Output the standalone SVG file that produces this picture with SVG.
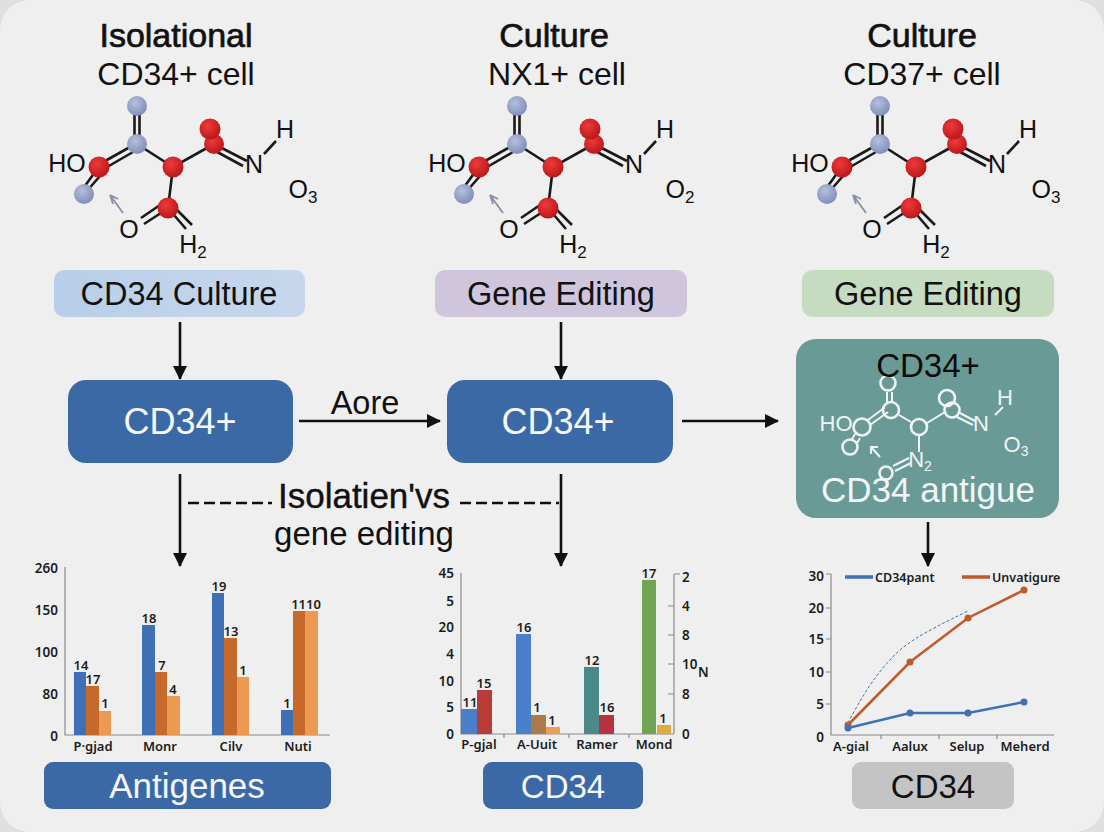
<svg xmlns="http://www.w3.org/2000/svg" width="1104" height="832" viewBox="0 0 1104 832">
<style>
text{font-family:"Liberation Sans",Arial,sans-serif;fill:#111}
.t1{font-size:34px;text-anchor:middle;stroke:#111;stroke-width:.7px}
.t2{font-size:32px;text-anchor:middle}
.atxt{font-size:25px;text-anchor:middle}
.sub{font-size:17px}
.bond{stroke:#1a1a1a;stroke-width:2.6;fill:none}
.wbond{stroke:#eef5f4;stroke-width:2;fill:none}
.wc{fill:none;stroke:#eef5f4;stroke-width:2.6}
.wt{font-size:22px;text-anchor:middle;fill:#eef5f4}
.lbl{font-size:32.500px;text-anchor:middle}
.white{fill:#f6f8fb}
.conn{stroke:#111;stroke-width:2.6;fill:none}
.ax{stroke:#8a8a8a;stroke-width:1.2;fill:none}
.n{font-family:"Noto Sans","Liberation Sans",sans-serif;font-size:13px;text-anchor:middle;fill:#1c1c1c;font-weight:600}
.tick{font-family:"Noto Sans","Liberation Sans",sans-serif;font-size:13.5px;text-anchor:end;fill:#1c1c1c;font-weight:600}
.cat{font-family:"Noto Sans","Liberation Sans",sans-serif;font-size:13px;text-anchor:middle;fill:#1c1c1c;font-weight:600}
</style>
<defs>
<radialGradient id="blue" cx=".4" cy=".35" r=".7"><stop offset="0" stop-color="#b5c0dd"/><stop offset="1" stop-color="#7d8cb8"/></radialGradient>
<radialGradient id="red" cx=".4" cy=".35" r=".7"><stop offset="0" stop-color="#ee3a3a"/><stop offset="1" stop-color="#b81518"/></radialGradient>
<linearGradient id="g1" x1="0" x2="1"><stop offset="0" stop-color="#b8cfe9"/><stop offset="1" stop-color="#c6d7ec"/></linearGradient>
<marker id="ah" viewBox="0 0 14 14" markerWidth="14" markerHeight="14" refX="13" refY="7" orient="auto" markerUnits="userSpaceOnUse"><path d="M0 0L14 7L0 14Z" fill="#111"/></marker>
<g id="mol">
<path class="bond" d="M134.500 114V136M139.500 114V136M130 147L98 165M133 152L102 170M137 144L173 167L214 144M212 143L247 161M208 147L243 166M173 167L168 208M95 172L82 190M100 176L86 192M160 205L141 218M164 211L144 224M168 208L186 229M172 205L192 225"/>
<path d="M123 213L110 195L113 204M110 195L118 199" fill="none" stroke="#8a90a5" stroke-width="1.800"/>
<circle cx="137" cy="106" r="10" fill="url(#blue)"/><circle cx="137" cy="144" r="10" fill="url(#blue)"/><circle cx="84" cy="194" r="10" fill="url(#blue)"/>
<circle cx="99" cy="167" r="10.500" fill="url(#red)"/><circle cx="173" cy="167" r="10.500" fill="url(#red)"/><circle cx="168" cy="208" r="10.500" fill="url(#red)"/><circle cx="214" cy="144" r="10" fill="url(#red)"/><circle cx="210" cy="129" r="10.500" fill="url(#red)"/>
<path class="bond" d="M264 154L276 141"/>
</g>
</defs>
<rect width="1104" height="832" fill="#dfdfdf"/>
<rect width="1104" height="832" rx="30" fill="#efefef"/>

<g id="connectors">
<path class="conn" d="M180 322V379" marker-end="url(#ah)"/>
<path class="conn" d="M561 322V379" marker-end="url(#ah)"/>
<path class="conn" d="M299 421H440" marker-end="url(#ah)"/>
<path class="conn" d="M682 421H778" marker-end="url(#ah)"/>
<path class="conn" d="M180 474V566" marker-end="url(#ah)"/>
<path class="conn" d="M561 474V566" marker-end="url(#ah)"/>
<path class="conn" d="M928 522V566" marker-end="url(#ah)"/>
<path class="conn" d="M188 503H272M460 503H559" stroke-dasharray="11 5" stroke-width="2"/>
</g>

<g id="col1-title"><text class="t1" x="176" y="47">Isolational</text><text class="t2" x="176" y="85">CD34+ cell</text></g>
<g id="col2-title"><text class="t1" x="554" y="47">Culture</text><text class="t2" x="557" y="85">NX1+ cell</text></g>
<g id="col3-title"><text class="t1" x="922" y="47">Culture</text><text class="t2" x="922" y="85">CD37+ cell</text></g>

<g id="mol1"><use href="#mol"/>
<text class="atxt" x="67" y="172">HO</text><text class="atxt" x="254" y="173">N</text><text class="atxt" x="285" y="138">H</text><text class="atxt" x="129" y="238">O</text>
<text class="atxt" x="303" y="198">O<tspan class="sub" dy="5">3</tspan></text><text class="atxt" x="193" y="253">H<tspan class="sub" dy="5">2</tspan></text></g>
<g id="mol2"><use href="#mol" x="380"/>
<text class="atxt" x="447" y="172">HO</text><text class="atxt" x="634" y="173">N</text><text class="atxt" x="665" y="138">H</text><text class="atxt" x="509" y="238">O</text>
<text class="atxt" x="680" y="198">O<tspan class="sub" dy="5">2</tspan></text><text class="atxt" x="573" y="253">H<tspan class="sub" dy="5">2</tspan></text></g>
<g id="mol3"><use href="#mol" x="743"/>
<text class="atxt" x="810" y="172">HO</text><text class="atxt" x="997" y="173">N</text><text class="atxt" x="1028" y="138">H</text><text class="atxt" x="872" y="238">O</text>
<text class="atxt" x="1046" y="198">O<tspan class="sub" dy="5">3</tspan></text><text class="atxt" x="936" y="253">H<tspan class="sub" dy="5">2</tspan></text></g>

<g id="n-culture"><rect x="54" y="270" width="251" height="47" rx="10" fill="url(#g1)"/><text class="lbl" x="179" y="305">CD34 Culture</text></g>
<g id="n-edit1"><rect x="435" y="270" width="252" height="47" rx="10" fill="#cfc6de"/><text class="lbl" x="561" y="305">Gene Editing</text></g>
<g id="n-edit2"><rect x="802" y="270" width="252" height="47" rx="10" fill="#c6dcc0"/><text class="lbl" x="928" y="305">Gene Editing</text></g>
<g id="n-cd34a"><rect x="68" y="380" width="225" height="83" rx="18" fill="#3b69a5"/><text class="lbl white" x="180" y="434" style="font-size:36px">CD34+</text></g>
<g id="n-cd34b"><rect x="447" y="380" width="226" height="83" rx="18" fill="#3b69a5"/><text class="lbl white" x="558" y="434" style="font-size:36px">CD34+</text></g>
<text id="lbl-aore" class="lbl" x="365" y="414">Aore</text>

<g id="n-antigen"><rect x="796" y="339" width="263" height="179" rx="20" fill="#6a9a96"/>
<path class="wbond" d="M887 392V402M892 392V402M884 408L868 420M888 412L870 425M899 415L911 422M927 423L945 412M960 413L975 421M957 417L973 425M855 434L852 439M860 438L857 443M919 436V452M893 466L909 458M895 471L911 463M995 415L1003 407"/>
<path class="wbond" d="M880 457L871 447M871 454V447H878"/>
<circle class="wc" cx="888" cy="383" r="7.500"/><circle class="wc" cx="891" cy="410" r="8"/><circle class="wc" cx="862" cy="427" r="8.500"/><circle class="wc" cx="850" cy="447" r="7.500"/><circle class="wc" cx="919" cy="427" r="8"/><circle class="wc" cx="952" cy="410" r="7.500"/><circle class="wc" cx="947" cy="398" r="8"/><circle class="wc" cx="886" cy="473" r="6.500"/>
<text class="wt" x="836" y="431">HO</text><text class="wt" x="981" y="431">N</text><text class="wt" x="1005" y="405">H</text>
<text class="wt" x="1016" y="452">O<tspan font-size="14" dy="4">3</tspan></text><text class="wt" x="920" y="467">N<tspan font-size="14" dy="4">2</tspan></text>
<text class="lbl" x="928" y="377" style="font-size:33px;fill:#0c0c0c">CD34+</text>
<text class="lbl" x="928" y="502" style="font-size:35px;fill:#f2f7f6">CD34 antigue</text></g>

<g id="chart1">
<path class="ax" d="M65 567V735H330"/>
<g fill="#3f70b5"><rect x="74" y="672" width="12" height="63"/><rect x="142" y="625" width="13" height="110"/><rect x="212" y="593" width="12" height="142"/><rect x="281" y="710" width="12" height="25"/></g>
<g fill="#c8692c"><rect x="86" y="686" width="13" height="49"/><rect x="155" y="672" width="12" height="63"/><rect x="224" y="638" width="13" height="97"/><rect x="293" y="611" width="12" height="124"/></g>
<g fill="#ec9a52"><rect x="99" y="711" width="12" height="24"/><rect x="167" y="696" width="13" height="39"/><rect x="237" y="677" width="12" height="58"/><rect x="305" y="611" width="13" height="124"/></g>
<g><text class="tick" x="58" y="573">260</text><text class="tick" x="58" y="615">150</text><text class="tick" x="58" y="657">100</text><text class="tick" x="58" y="699">80</text><text class="tick" x="58" y="741">0</text></g>
<g><text class="n" x="81" y="670">14</text><text class="n" x="93" y="684">17</text><text class="n" x="105" y="708">1</text><text class="n" x="149" y="623">18</text><text class="n" x="162" y="670">7</text><text class="n" x="173" y="694">4</text><text class="n" x="219" y="591">19</text><text class="n" x="231" y="636">13</text><text class="n" x="243" y="675">1</text><text class="n" x="287" y="708">1</text><text class="n" x="306" y="609">1110</text></g>
<g><text class="cat" x="93" y="751">P·gjad</text><text class="cat" x="160" y="751">Monr</text><text class="cat" x="231" y="751">Cilv</text><text class="cat" x="298" y="751">Nuti</text></g>
</g>

<g id="chart2">
<path class="ax" d="M461 573V734H673M674 574V734M674 574H680M668 606H674M668 635H674M668 664H674M668 694H674M668 734H674M504 734V738M569 734V738M629 734V738"/>
<rect x="461" y="709" width="16" height="25" fill="#4a7fcb"/><rect x="477" y="690" width="15" height="44" fill="#b93c36"/>
<rect x="516" y="634" width="15" height="100" fill="#4a7fcb"/><rect x="531" y="715" width="15" height="19" fill="#ab7a48"/><rect x="546" y="727" width="14" height="7" fill="#eaa04e"/>
<rect x="584" y="667" width="15" height="67" fill="#4a8a88"/><rect x="599" y="715" width="15" height="19" fill="#b93240"/>
<rect x="642" y="580" width="14" height="154" fill="#6fa553"/><rect x="657" y="725" width="14" height="9" fill="#e0ab3c"/>
<g><text class="tick" x="454" y="578">45</text><text class="tick" x="454" y="606">5</text><text class="tick" x="454" y="632">20</text><text class="tick" x="454" y="659">4</text><text class="tick" x="454" y="686">10</text><text class="tick" x="454" y="712">5</text><text class="tick" x="454" y="739">0</text></g>
<g><text class="tick" x="682" y="582" style="text-anchor:start">2</text><text class="tick" x="682" y="611" style="text-anchor:start">4</text><text class="tick" x="682" y="640" style="text-anchor:start">8</text><text class="tick" x="682" y="669" style="text-anchor:start">10</text><text class="tick" x="682" y="699" style="text-anchor:start">8</text><text class="tick" x="682" y="739" style="text-anchor:start">0</text><text class="tick" x="698" y="677" style="text-anchor:start">N</text></g>
<g><text class="n" x="470" y="707">11</text><text class="n" x="484" y="688">15</text><text class="n" x="524" y="632">16</text><text class="n" x="537" y="712">1</text><text class="n" x="552" y="725">1</text><text class="n" x="592" y="665">12</text><text class="n" x="607" y="712">16</text><text class="n" x="649" y="578">17</text><text class="n" x="663" y="723">1</text></g>
<g><text class="cat" x="479" y="749">P-gjal</text><text class="cat" x="537" y="749">A-Uuit</text><text class="cat" x="597" y="749">Ramer</text><text class="cat" x="654" y="749">Mond</text></g>
</g>

<g id="chart3">
<path class="ax" d="M831 574V735H1054M881 735V739M939 735V739M997 735V739M826 574H831M826 608H831M826 639H831M826 672H831M826 704H831"/>
<path d="M848 723C860 700 873 678 890 660C903 645 920 634 968 611" fill="none" stroke="#3f70a5" stroke-width="1" stroke-dasharray="3 2"/>
<path d="M848 725L910 662L968 618L1024 590" fill="none" stroke="#c0592e" stroke-width="2.500"/>
<path d="M848 728L910 713L968 713L1024 702" fill="none" stroke="#3f70b5" stroke-width="2.500"/>
<g fill="#c0592e"><circle cx="848" cy="725" r="3.500"/><circle cx="910" cy="662" r="3.500"/><circle cx="968" cy="618" r="3.500"/><circle cx="1024" cy="590" r="3.500"/></g>
<g fill="#3f70b5"><circle cx="848" cy="728" r="3.500"/><circle cx="910" cy="713" r="3.500"/><circle cx="968" cy="713" r="3.500"/><circle cx="1024" cy="702" r="3.500"/></g>
<path d="M845 577H873" stroke="#3f70b5" stroke-width="3.500"/><path d="M962 577H990" stroke="#c0592e" stroke-width="3.500"/>
<text class="tick" x="875" y="582" style="text-anchor:start;font-size:12.500px">CD34pant</text><text class="tick" x="992" y="582" style="text-anchor:start;font-size:12.500px">Unvatigure</text>
<g><text class="tick" x="824" y="581">30</text><text class="tick" x="824" y="613">20</text><text class="tick" x="824" y="644">15</text><text class="tick" x="824" y="677">10</text><text class="tick" x="824" y="709">5</text><text class="tick" x="824" y="742">0</text></g>
<g><text class="cat" x="851" y="751">A-gial</text><text class="cat" x="910" y="751">Aalux</text><text class="cat" x="967" y="751">Selup</text><text class="cat" x="1025" y="751">Meherd</text></g>
</g>

<g id="lbl-iso"><text class="lbl" x="364" y="508" style="font-size:35px;stroke:#111;stroke-width:.4px">Isolatien'vs</text><text class="lbl" x="364" y="545" style="font-size:33px">gene editing</text></g>

<g id="n-antigenes"><rect x="44" y="762" width="287" height="47" rx="9" fill="#3b69a5"/><text class="lbl white" x="187" y="798" style="font-size:35px">Antigenes</text></g>
<g id="n-cd34c"><rect x="483" y="762" width="160" height="47" rx="9" fill="#3b69a5"/><text class="lbl white" x="563" y="798" style="font-size:33px">CD34</text></g>
<g id="n-cd34d"><rect x="852" y="762" width="162" height="47" rx="9" fill="#c4c4c4"/><text class="lbl" x="933" y="798" style="font-size:33px">CD34</text></g>
</svg>
